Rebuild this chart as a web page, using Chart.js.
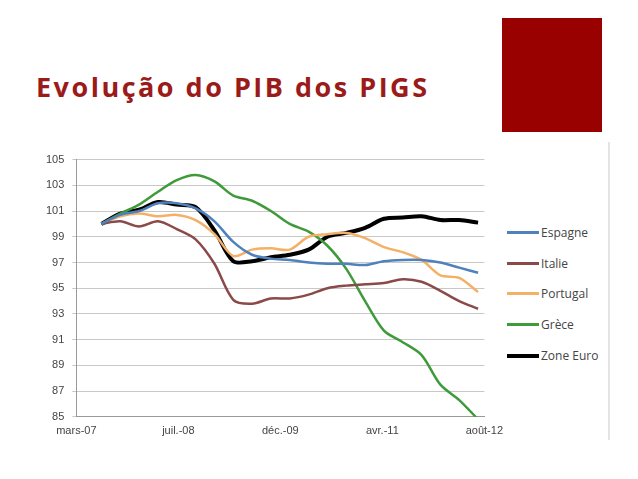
<!doctype html>
<html><head><meta charset="utf-8">
<script src="https://cdn.jsdelivr.net/npm/chart.js@4"></script>
<style>
body{margin:0;width:638px;height:479px;background:#fff;position:relative;overflow:hidden;font-family:"Open Sans",sans-serif}
#title{position:absolute;left:36px;top:68px;font-size:27px;letter-spacing:2.5px;font-weight:bold;color:#9b1b1b}
#sq{position:absolute;left:502px;top:18px;width:100px;height:114px;background:#990000}
#vl{position:absolute;left:608px;top:142px;width:2px;height:298px;background:#e4e4e4}
#wrap{position:absolute;left:38px;top:145px;width:468px;height:296px}
#leg{position:absolute;left:507px;top:224px;font-size:12px;color:#444}
#leg div{height:30.7px;display:flex;align-items:flex-start}
#leg span.l{display:inline-block;width:32px;height:3px;margin-top:7px;margin-right:2px}
</style></head><body>
<div id="title">Evolução do PIB dos PIGS</div>
<div id="sq"></div><div id="vl"></div>
<div id="wrap"><canvas id="c"></canvas></div>
<div id="leg"></div>
<script>
// months since mars-07, quarterly
const months = [4,7,10,13,16,19,22,25,28,31,34,37,40,43,46,49,52,55,58,61,64];
const tickPos = [0,16.25,32.5,48.75,65];
const tickLabels = ["mars-07","juil.-08","déc.-09","avr.-11","août-12"];
const espagne = [100,100.7,101.0,101.6,101.6,101.2,100.2,98.6,97.6,97.3,97.2,97.0,96.9,96.9,96.8,97.1,97.2,97.2,97.0,96.6,96.2];
const italie = [100,100.2,99.8,100.2,99.6,98.8,96.9,94.1,93.8,94.2,94.2,94.5,95.0,95.2,95.3,95.4,95.7,95.5,94.8,94.0,93.4];
const portugal = [100,100.6,100.8,100.6,100.7,100.3,99.2,97.5,98.0,98.1,98.0,99.0,99.2,99.3,98.9,98.2,97.8,97.2,96.0,95.8,94.7];
const grece = [100,100.8,101.5,102.5,103.4,103.8,103.3,102.2,101.8,101.0,100.0,99.4,98.3,96.5,94.0,91.7,90.8,89.8,87.5,86.3,84.8];
const zoneEuro = [100,100.8,101.1,101.7,101.5,101.3,99.5,97.1,97.1,97.4,97.6,98.0,99.0,99.3,99.7,100.4,100.5,100.6,100.3,100.3,100.1];

const pts = a => a.map((y,i)=>({x:months[i],y}));
const ds = (label,data,color,w)=>({label,data:pts(data),borderColor:color,backgroundColor:color,borderWidth:w,pointRadius:0,tension:0.3});
const chart = new Chart(document.getElementById("c"),{
  type:"line",
  data:{datasets:[
    ds("Espagne",espagne,"#4f81bd",2.5),
    ds("Italie",italie,"#8b4a4a",2.5),
    ds("Portugal",portugal,"#f4b066",2.5),
    ds("Grèce",grece,"#3f9a3a",2.5),
    ds("Zone Euro",zoneEuro,"#000000",4)
  ]},
  options:{responsive:true,maintainAspectRatio:false,animation:false,
    layout:{padding:{top:4,right:6}},
    plugins:{legend:{display:false},tooltip:{enabled:false}},
    scales:{
      x:{type:"linear",min:0,max:65,afterBuildTicks:ax=>{ax.ticks=tickPos.map(v=>({value:v}));},
        ticks:{callback:(v,i)=>tickLabels[i],color:"#444",font:{size:11},maxRotation:0,autoSkip:false},
        grid:{display:false,drawTicks:true,tickLength:5},border:{color:"#999"}},
      y:{min:85,max:105,ticks:{stepSize:2,color:"#444",font:{size:11},padding:8},grid:{color:"#c8c8c8",tickLength:4},border:{color:"#999"}}
    }}
});
const leg = document.getElementById("leg");
chart.data.datasets.forEach(d=>{
  const row=document.createElement("div");
  row.innerHTML='<span class="l" style="background:'+d.borderColor+';height:'+(d.borderWidth>3?4:3)+'px"></span>'+d.label;
  leg.appendChild(row);
});
</script></body></html>
